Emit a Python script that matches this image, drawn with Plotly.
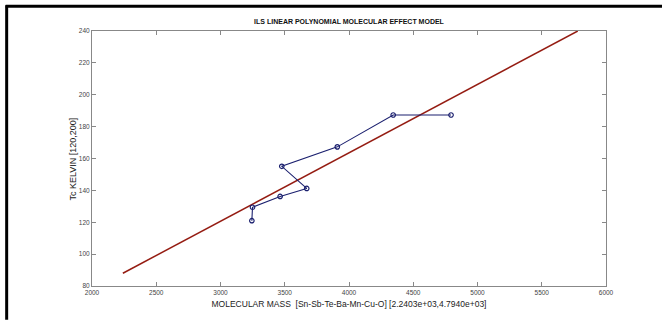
import plotly.graph_objects as go

# Data
mass = [3244, 3249, 3464, 3671, 3477, 3909, 4344, 4794]
tc = [121, 129.4, 136.2, 141.2, 155.1, 167.3, 187.3, 187.3]
fit_x = [2240.3, 5780]
fit_y = [88, 240]

x_ticks = [2000, 2500, 3000, 3500, 4000, 4500, 5000, 5500, 6000]
y_ticks = [80, 100, 120, 140, 160, 180, 200, 220, 240]

title = "ILS LINEAR POLYNOMIAL MOLECULAR EFFECT MODEL"
x_title = "MOLECULAR MASS  [Sn-Sb-Te-Ba-Mn-Cu-O] [2.2403e+03,4.7940e+03]"
y_title = "Tc KELVIN [120,200]"

fig = go.Figure()
fig.add_trace(go.Scatter(x=fit_x, y=fit_y, mode="lines",
                         line=dict(color="#951c12", width=1.5), showlegend=False))
fig.add_trace(go.Scatter(x=mass, y=tc, mode="lines+markers",
                         line=dict(color="#1a1f6e", width=1.1),
                         marker=dict(symbol="circle-open", size=4.5, color="#1a1f6e",
                                     line=dict(width=1.2, color="#1a1f6e")),
                         showlegend=False))

L, R, T, B = 91.5, 55.5, 31, 32
W, H = 662, 320
pw = W - L - R
ph = H - T - B

def px(x):
    return (x - L) / pw

def py(y):
    return (H - B - y) / ph

axis_common = dict(showline=True, linecolor="#888888", linewidth=1, mirror="ticks",
                   ticks="inside", ticklen=4, tickcolor="#888888", showgrid=False,
                   zeroline=False, tickfont=dict(size=6.5, color="#444444",
                                                  family="Liberation Sans, Arial"))

fig.update_layout(
    width=W, height=H,
    margin=dict(l=L, r=R, t=T, b=B),
    paper_bgcolor="white", plot_bgcolor="white",
    title=dict(text="<b>" + title + "</b>", x=(L + pw / 2) / W, xanchor="center",
               y=1 - 22 / H, yanchor="middle",
               font=dict(size=7, color="#111111", family="Liberation Sans, Arial")),
    xaxis=dict(range=[2000, 6000], tickvals=x_ticks, ticktext=[str(v) for v in x_ticks],
               title=dict(text=x_title, standoff=6,
                          font=dict(size=8.5, color="#222222", family="Liberation Sans, Arial")),
               **axis_common),
    yaxis=dict(range=[80, 240], tickvals=y_ticks, ticktext=[str(v) for v in y_ticks],
               **axis_common),
    annotations=[
        dict(text=y_title, xref="paper", yref="paper", x=px(72), y=py(160),
             xanchor="center", yanchor="middle", textangle=-90, showarrow=False,
             font=dict(size=9, color="#222222", family="Liberation Sans, Arial")),
    ],
    shapes=[
        dict(type="line", xref="paper", yref="paper", x0=px(6), x1=px(6), y0=py(5), y1=py(322),
             line=dict(color="black", width=3)),
        dict(type="line", xref="paper", yref="paper", x0=px(5), x1=px(664), y0=py(6), y1=py(6),
             line=dict(color="black", width=3)),
    ],
)

fig.write_html("out.html", config={"displayModeBar": False},
               post_script="document.body.style.margin='0';document.body.style.overflow='hidden';")
